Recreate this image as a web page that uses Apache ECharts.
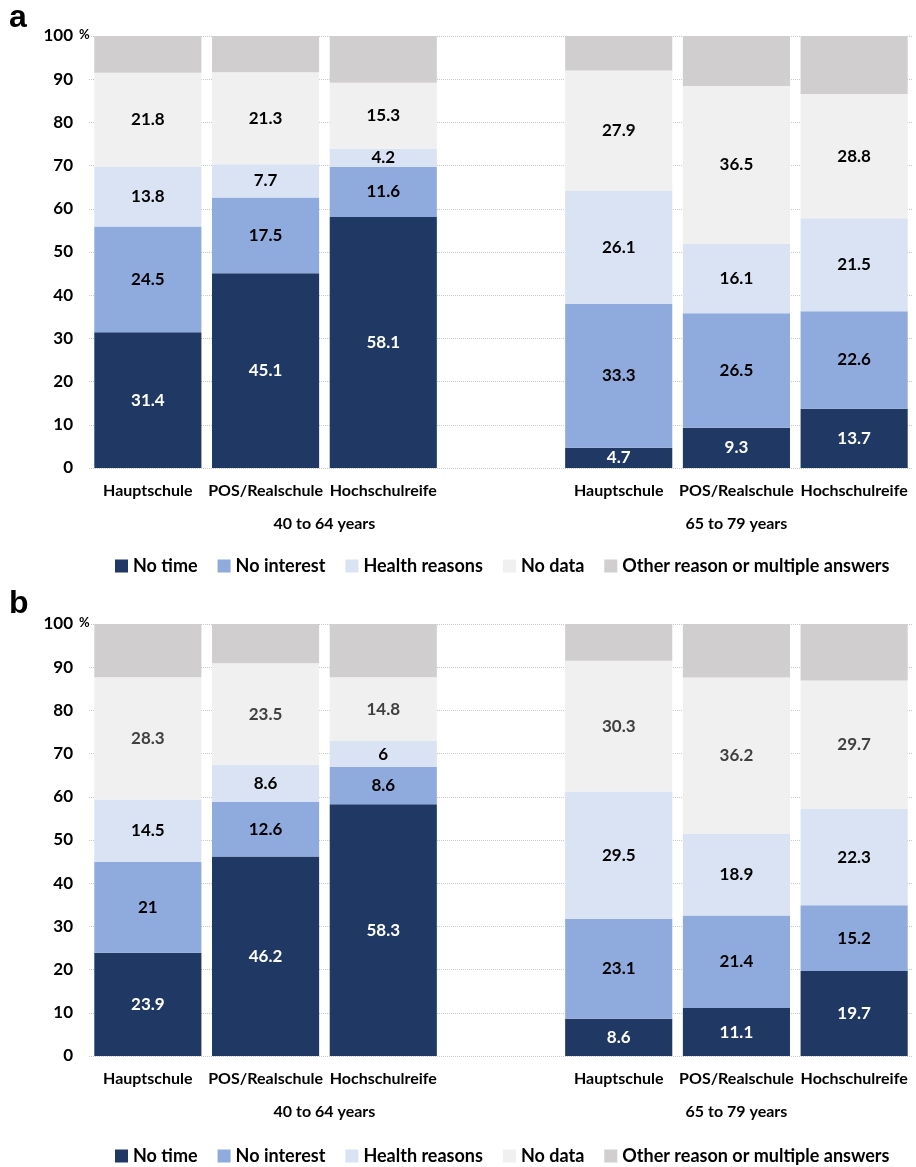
<!DOCTYPE html>
<html>
<head>
<meta charset="utf-8">
<script src="https://cdn.jsdelivr.net/npm/echarts@6/dist/echarts.min.js"></script>
<style>
  html, body { margin: 0; padding: 0; background: #fff; }
  #main { width: 916px; height: 1167px; }
</style>
</head>
<body>
<div id="main"></div>
<script>
// categories
var schools = ['Hauptschule', 'POS/Realschule', 'Hochschulreife'];
var ageGroups = ['40 to 64 years', '65 to 79 years'];
var seriesNames = ['No time', 'No interest', 'Health reasons', 'No data', 'Other reason or multiple answers'];
var colors = ['#203864', '#8faadc', '#dae3f3', '#f0f0f0', '#d0cece'];

// panel a (3 schools 40-64, then 3 schools 65-79)
var aNoTime     = [31.4, 45.1, 58.1, 4.7, 9.3, 13.7];
var aNoInterest = [24.5, 17.5, 11.6, 33.3, 26.5, 22.6];
var aHealth     = [13.8, 7.7, 4.2, 26.1, 16.1, 21.5];
var aNoData     = [21.8, 21.3, 15.3, 27.9, 36.5, 28.8];
var aOther      = [8.5, 8.4, 10.8, 8.0, 11.6, 13.4];

// panel b
var bNoTime     = [23.9, 46.2, 58.3, 8.6, 11.1, 19.7];
var bNoInterest = [21, 12.6, 8.6, 23.1, 21.4, 15.2];
var bHealth     = [14.5, 8.6, 6, 29.5, 18.9, 22.3];
var bNoData     = [28.3, 23.5, 14.8, 30.3, 36.2, 29.7];
var bOther      = [12.3, 9.1, 12.3, 8.5, 12.4, 13.1];

var FONT = 'Lato';

//插入中间空位
function withGap(arr, filler) {
	return arr.slice(0, 3).concat([filler]).concat(arr.slice(3));
}

var cats = withGap(schools.concat(schools), '');
// 年龄组标签轴（半格刻度）
var groupCats = ['', '', '', '', ageGroups[0], '', '', '', '', '', '', ageGroups[1], '', '', ''];

var panels = [
	{ top: 36, legendTop: 552, data: [aNoTime, aNoInterest, aHealth, aNoData, aOther], noDataColor: '#000' },
	{ top: 624, legendTop: 1142, data: [bNoTime, bNoInterest, bHealth, bNoData, bOther], noDataColor: '#404040' }
];

var grids = [], xAxes = [], yAxes = [], series = [], legends = [];

panels.forEach(function(p, pi) {
	grids.push({ left: 89, right: 0, top: p.top, height: 432 });
	xAxes.push({
		type: 'category', gridIndex: pi, data: cats,
		axisLine: { show: false }, axisTick: { show: false },
		axisLabel: { interval: 0, margin: 15, color: '#000', fontFamily: FONT, fontWeight: 'bold', fontSize: 16 }
	});
	xAxes.push({
		type: 'category', gridIndex: pi, data: groupCats, position: 'bottom', boundaryGap: false,
		axisLine: { show: false }, axisTick: { show: false },
		axisLabel: { interval: 0, margin: 48, color: '#000', fontFamily: FONT, fontWeight: 'bold', fontSize: 16 }
	});
	yAxes.push({
		type: 'value', gridIndex: pi, min: 0, max: 100, interval: 10,
		axisLine: { show: false }, axisTick: { show: false },
		axisLabel: { margin: 16, color: '#000', fontFamily: FONT, fontWeight: 'bold', fontSize: 17 },
		splitLine: { lineStyle: { type: 'dotted', color: '#c8c8c8', width: 1 } }
	});
	p.data.forEach(function(vals, si) {
		var labelColor = si === 0 ? '#fff' : (si === 3 ? p.noDataColor : '#000');
		series.push({
			name: seriesNames[si], type: 'bar', stack: 'p' + pi,
			xAxisIndex: pi * 2, yAxisIndex: pi,
			barCategoryGap: '9%',
			itemStyle: { color: colors[si] },
			label: {
				show: si < 4, position: 'inside', color: labelColor,
				fontFamily: FONT, fontWeight: 'bold', fontSize: 17
			},
			data: withGap(vals, '-')
		});
	});
	legends.push({
		top: p.legendTop, left: 110, data: seriesNames,
		icon: 'rect', itemWidth: 13, itemHeight: 13, itemGap: 20, selectedMode: false,
		textStyle: { color: '#000', fontFamily: FONT, fontWeight: 'bold', fontSize: 18 }
	});
});

var myChart = echarts.init(document.getElementById('main'));
myChart.setOption({
	animation: false,
	color: colors,
	grid: grids,
	xAxis: xAxes,
	yAxis: yAxes,
	legend: legends,
	series: series,
	graphic: [
		{ type: 'text', left: 9, top: 2, style: { text: 'a', fontFamily: 'Liberation Sans', fontWeight: 'bold', fontSize: 32, fill: '#000' } },
		{ type: 'text', left: 9, top: 588, style: { text: 'b', fontFamily: 'Liberation Sans', fontWeight: 'bold', fontSize: 32, fill: '#000' } },
		{ type: 'text', left: 79, top: 28, style: { text: '%', fontFamily: FONT, fontWeight: 'bold', fontSize: 13, fill: '#000' } },
		{ type: 'text', left: 79, top: 616, style: { text: '%', fontFamily: FONT, fontWeight: 'bold', fontSize: 13, fill: '#000' } }
	]
});
</script>
</body>
</html>
